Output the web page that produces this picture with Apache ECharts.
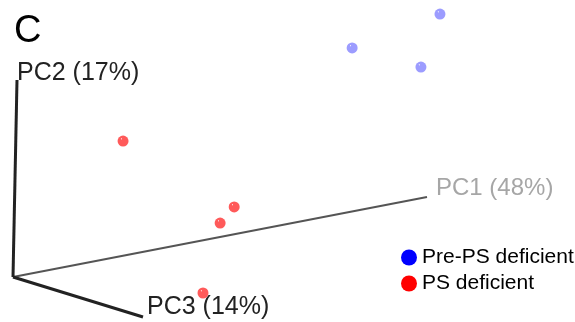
<!DOCTYPE html>
<html>
<head>
<meta charset="utf-8">
<script src="https://cdn.jsdelivr.net/npm/echarts@6/dist/echarts.min.js"></script>
<style>
html, body { margin: 0; padding: 0; background: #fff; }
#chart { width: 575px; height: 322px; }
</style>
</head>
<body>
<div id="chart"></div>
<script>
var groups = ['Pre-PS deficient', 'PS deficient'];
var axisNames = ['PC1 (48%)', 'PC2 (17%)', 'PC3 (14%)'];
// PCA scores [PC1, PC2, PC3], scaled to the drawn axis length
var prePS = [[0.959, 0.986, 0.2], [0.716, 0.933, 0.3], [0.852, 0.801, 0.4]];
var ps = [[0.165, 0.684, 0.3], [0.406, 0.272, 0.4], [0.341, 0.237, 0.5], [0.176, 0.030, 0.9]];

// fixed oblique view of the 3d box
var origin = [13, 277];
var dirs = [[414, -80], [4, -197], [130, 40]];
function project(p) {
    return [
        origin[0] + p[0] * dirs[0][0] + p[1] * dirs[1][0] + p[2] * dirs[2][0],
        origin[1] + p[0] * dirs[0][1] + p[1] * dirs[1][1] + p[2] * dirs[2][1]
    ];
}

function ball(c) {
    return {
        type: 'radial', x: 0.35, y: 0.3, r: 0.75,
        colorStops: [{offset: 0, color: '#ffffff'}, {offset: 0.12, color: c}, {offset: 1, color: c}]
    };
}

var axisStyle = [
    {color: '#555', width: 2, label: '#a6a6a6', size: 24, off: [9, -9]},
    {color: '#222', width: 3, label: '#222', size: 25, off: [0, -7]},
    {color: '#222', width: 3, label: '#222', size: 25, off: [4, -10]}
];

var series = [];
axisNames.forEach(function (name, i) {
    var end = [0, 0, 0];
    end[i] = 1;
    series.push({
        type: 'line',
        silent: true,
        symbol: 'none',
        data: [project([0, 0, 0]), project(end)],
        lineStyle: {color: axisStyle[i].color, width: axisStyle[i].width},
        z: 1
    });
    series.push({
        type: 'scatter',
        silent: true,
        symbolSize: 0,
        data: [project(end)],
        itemStyle: {opacity: 1},
        label: {
            show: true,
            formatter: name,
            position: axisStyle[i].off,
            align: 'left',
            verticalAlign: 'middle',
            color: axisStyle[i].label,
            fontSize: axisStyle[i].size,
            fontFamily: 'Liberation Sans'
        }
    });
});

series.push({
    name: groups[0],
    type: 'scatter',
    symbolSize: 11,
    data: prePS.map(project),
    itemStyle: {color: ball('#9c9cff'), opacity: 1},
    z: 3
});
series.push({
    name: groups[1],
    type: 'scatter',
    symbolSize: 11,
    data: ps.map(project),
    itemStyle: {color: ball('#ff5a5a'), opacity: 1},
    z: 3
});

var myChart = echarts.init(document.getElementById('chart'));
var option = {
    animation: false,
    title: {
        text: 'C',
        left: 9,
        top: 8,
        textStyle: {fontSize: 38, fontWeight: 'normal', color: '#000', fontFamily: 'Liberation Sans'}
    },
    legend: {
        orient: 'vertical',
        left: 396,
        top: 242,
        icon: 'circle',
        itemWidth: 16,
        itemHeight: 16,
        itemGap: 5,
        textStyle: {fontSize: 21, color: '#000', fontFamily: 'Liberation Sans'},
        data: [
            {name: groups[0], itemStyle: {color: '#0000ff', opacity: 1}},
            {name: groups[1], itemStyle: {color: '#ff0000', opacity: 1}}
        ]
    },
    grid: {left: 0, right: 0, top: 0, bottom: 0},
    xAxis: {type: 'value', min: 0, max: 575, show: false},
    yAxis: {type: 'value', min: 0, max: 322, inverse: true, show: false},
    series: series
};
myChart.setOption(option);
</script>
</body>
</html>
